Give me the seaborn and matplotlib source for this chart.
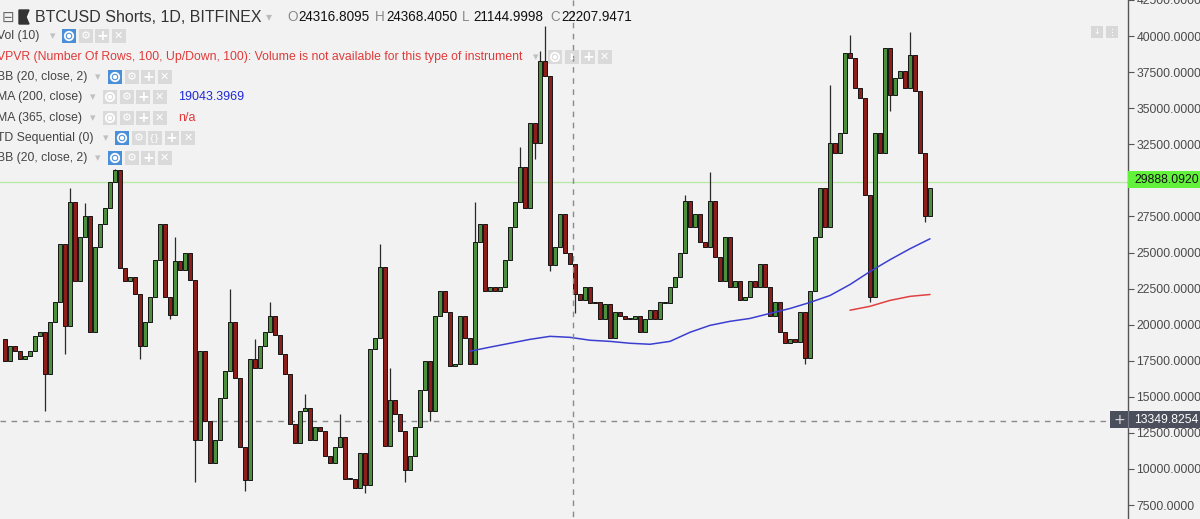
import numpy as np
import matplotlib
matplotlib.use("Agg")
import matplotlib.pyplot as plt
from matplotlib.patches import Rectangle, Polygon, Circle
import seaborn as sns

# ---------------- data (prices in thousands of USD) ----------------
first_open = 19.0
closes = [
    17.5, 18.5, 18.2, 17.6, 17.8, 18.2, 19.2, 19.5, 16.6, 20.2,
    21.6, 25.6, 19.9, 28.5, 23.0, 26.1, 27.5, 19.5, 25.4, 27.0,
    28.1, 29.9, 30.7, 23.9, 23.0, 23.3, 22.1, 18.5, 20.2, 21.9,
    24.5, 27.0, 21.9, 20.7, 24.4, 23.8, 25.0, 23.1, 12.0, 18.2,
    13.3, 10.4, 12.0, 14.9, 16.8, 20.2, 16.3, 11.5, 9.2, 17.6,
    17.0, 18.5, 19.5, 20.6, 19.3, 18.0, 16.6, 13.1, 11.8, 14.0,
    14.2, 12.0, 12.9, 12.6, 10.9, 10.4, 11.5, 12.2, 9.3, 9.3,
    8.7, 11.1, 8.9, 18.3, 19.1, 24.0, 11.6, 14.8, 13.8, 12.6,
    9.9, 10.9, 12.9, 15.5, 17.5, 14.0, 20.6, 22.3, 20.9, 17.1,
    17.3, 20.6, 19.1, 17.3, 25.7, 27.0, 22.3, 22.6, 22.3, 22.6,
    24.5, 26.8, 28.5, 30.9, 28.1, 34.0, 32.6, 38.3, 37.2, 24.1,
    25.4, 27.7, 25.0, 24.2, 22.1, 21.7, 22.6, 21.5, 21.6, 20.4,
    21.4, 19.1, 20.9, 20.6, 20.4, 20.4, 20.6, 19.5, 20.4, 21.0,
    20.4, 21.6, 21.5, 22.6, 23.3, 25.0, 28.6, 26.8, 27.7, 25.7,
    25.4, 28.6, 24.7, 23.0, 26.1, 22.6, 23.0, 21.7, 21.9, 23.0,
    22.6, 24.2, 22.6, 20.6, 21.6, 19.5, 18.7, 19.0, 18.8, 20.9,
    17.7, 22.3, 26.1, 29.5, 26.8, 32.6, 31.9, 33.3, 38.8, 38.5,
    36.4, 35.7, 29.0, 21.9, 33.3, 31.9, 39.2, 35.9, 37.1, 37.6,
    36.4, 38.7, 36.2, 31.9, 27.5, 29.5,
]
wick_high = {13: 29.5, 16: 28.4, 22: 30.8, 34: 26.1, 45: 22.5, 50: 19.0,
             53: 21.6, 60: 15.2, 67: 13.8, 75: 25.6, 77: 17.0, 94: 28.5,
             103: 32.3, 107: 39.0, 108: 40.7, 136: 29.0, 141: 30.6,
             165: 36.6, 169: 40.1, 181: 40.3}
wick_low = {8: 14.0, 12: 18.0, 27: 17.6, 33: 20.4, 38: 9.1, 48: 8.5,
            72: 8.3, 80: 9.1, 85: 13.3, 106: 31.5, 109: 23.7, 114: 20.8,
            160: 17.3, 173: 21.6, 177: 34.8, 184: 27.1}

ma200_start, ma_step = 93, 4
ma200 = [18.16, 18.44, 18.71, 18.98, 19.19, 19.12, 18.92, 18.84, 18.71, 18.64,
         18.84, 19.47, 19.95, 20.23, 20.43, 20.78, 21.12, 21.54, 22.02, 22.78,
         23.68, 24.50, 25.26, 25.95]
ma365_start = 169
ma365 = [21.0, 21.27, 21.68, 21.96, 22.09]

last_price = 29888.0920
cross_price = 13349.8254
y_ticks = [7500, 10000, 12500, 15000, 17500, 20000, 22500, 25000, 27500,
           30000, 32500, 35000, 37500, 40000, 42500]
title = "BTCUSD Shorts, 1D, BITFINEX"
ohlc_letters = ["O", "H", "L", "C"]
ohlc_values = ["24316.8095", "24368.4050", "21144.9998", "22207.9471"]
indicator_labels = ["Vol (10)",
                    "VPVR (Number Of Rows, 100, Up/Down, 100): Volume is not available for this type of instrument",
                    "BB (20, close, 2)", "MA (200, close)", "MA (365, close)",
                    "TD Sequential (0)", "BB (20, close, 2)"]
indicator_values = [None, None, None, "19043.3969", "n/a", None, None]

# ---------------- style ----------------
BG = "#f2f2f2"
GREEN = "#4e8f3e"
RED = "#8c1f1a"
sns.set_style("white")
plt.rcParams["font.family"] = ["Liberation Sans", "DejaVu Sans"]

W, H = 1200, 519
fig = plt.figure(figsize=(W / 100, H / 100), dpi=100)
fig.patch.set_facecolor(BG)
axr = 1128 / W
ax = fig.add_axes([0, 0, axr, 1])
ax.set_facecolor(BG)

# price scale
p_top, p_bot = 42273, 6530
ax.set_ylim(p_bot, p_top)
ax.set_xlim(-1, (1128 - 5) / 5)

n = len(closes)
idx = np.arange(n)
c = np.array(closes) * 1000
o = np.r_[first_open * 1000, c[:-1]]
hi = np.maximum(o, c)
lo = np.minimum(o, c)
for k, v in wick_high.items():
    hi[k] = max(hi[k], v * 1000)
for k, v in wick_low.items():
    lo[k] = min(lo[k], v * 1000)
up = c >= o
body = c - o
body = np.where(np.abs(body) < 90, np.where(up, 90, -90), body)

ax.vlines(idx, lo, hi, color="#2a2a2a", lw=0.9, zorder=2)
ax.bar(idx[up], body[up], bottom=o[up], width=0.7, color=GREEN,
       edgecolor="#151515", linewidth=0.7, zorder=3)
ax.bar(idx[~up], body[~up], bottom=o[~up], width=0.7, color=RED,
       edgecolor="#151515", linewidth=0.7, zorder=3)

ma200_x = ma200_start + ma_step * np.arange(len(ma200))
ma365_x = ma365_start + ma_step * np.arange(len(ma365))
sns.lineplot(x=ma200_x, y=np.array(ma200) * 1000, ax=ax, color="#3b3fd0", lw=1.1, zorder=4)
sns.lineplot(x=ma365_x, y=np.array(ma365) * 1000, ax=ax, color="#e04040", lw=1.1, zorder=4)

ax.axhline(last_price, color="#b9e8a9", lw=1.0, zorder=1)
ax.axhline(cross_price, color="#8a8a8a", lw=1.0, ls=(0, (4, 4)), zorder=1)

ax.yaxis.tick_right()
ax.set_yticks(y_ticks)
# the 30000 label sits under the last-price badge, as in the reference
ax.set_yticklabels(["" if abs(t - last_price) < 600 else f"{t:.4f}" for t in y_ticks])
ax.tick_params(axis="y", length=4, width=0.8, color="#555555", labelsize=8.7,
               labelcolor="#4a4a4a", pad=2)
ax.set_xticks([])
for s in ["top", "left", "bottom"]:
    ax.spines[s].set_visible(False)
ax.spines["right"].set_color("#555555")
ax.spines["right"].set_linewidth(1.0)

# ---------------- overlay (pixel coordinates) ----------------
ov = fig.add_axes([0, 0, 1, 1], facecolor="none")
ov.set_xlim(0, W)
ov.set_ylim(H, 0)
ov.axis("off")
ov.set_zorder(5)

PX = 0.72  # points per pixel

ov.plot([573, 573], [0, H], color="#8a8a8a", lw=1.0, ls=(0, (4, 4)))

# header
ov.text(2, 17, "⊟", fontsize=15 * PX, color="#666666", va="center", family="DejaVu Sans")
ov.add_patch(Polygon([[19, 10], [29, 10], [26, 17], [29, 24], [19, 24]], closed=True,
                     color="#333333"))
ov.text(35, 17, title, fontsize=16 * PX, color="#333333", va="center")
ov.text(266, 17, "▾", fontsize=12 * PX, color="#bbbbbb", va="center", family="DejaVu Sans")
ohlc_x = [287, 375, 462, 550]
for lx, let, val in zip(ohlc_x, ohlc_letters, ohlc_values):
    ov.text(lx, 17, let, fontsize=13.5 * PX, color="#8a8a8a", va="center")
    ov.text(lx + 11, 17, val, fontsize=13.5 * PX, color="#111111", va="center")


def icons(x0, yc, kinds):
    x = x0
    for k in kinds:
        col = "#4a90d9" if k == "eye_b" else "#dadada"
        ov.add_patch(Rectangle((x, yc - 7), 14, 14, color=col, lw=0))
        cx = x + 7
        if k in ("eye_b", "eye_g"):
            ov.add_patch(Circle((cx, yc), 4.2, fill=False, ec="white", lw=1.3))
            ov.add_patch(Circle((cx, yc), 1.5, color="white"))
        elif k == "gear":
            ov.text(cx, yc, "⚙", fontsize=11 * PX, color="white", ha="center", va="center",
                    family="DejaVu Sans")
        elif k == "plus":
            ov.text(cx, yc, "+", fontsize=14 * PX, color="white", ha="center", va="center",
                    family="DejaVu Sans", fontweight="bold")
        elif k == "x":
            ov.text(cx, yc, "✕", fontsize=11 * PX, color="white", ha="center", va="center",
                    family="DejaVu Sans")
        elif k == "br":
            ov.text(cx, yc, "{}", fontsize=9 * PX, color="white", ha="center", va="center",
                    family="DejaVu Sans")
        elif k == "dl":
            ov.text(cx, yc, "⬇", fontsize=9 * PX, color="white", ha="center", va="center",
                    family="DejaVu Sans")
        x += 16.5


row_y = [36, 57, 77, 97, 118, 138, 158]
row_arrow = [50, 533, 95, 90, 90, 103, 95]
row_icon_x = [62, 548, 108, 103, 103, 115, 108]
row_icons = [["eye_b", "gear", "plus", "x"],
             ["eye_g", "dl", "plus", "x"],
             ["eye_b", "gear", "plus", "x"],
             ["eye_g", "gear", "plus", "x"],
             ["eye_g", "gear", "plus", "x"],
             ["eye_b", "gear", "br", "plus", "x"],
             ["eye_b", "gear", "plus", "x"]]
row_val_col = [None, None, None, "#1f2ad6", "#e03a3a", None, None]
for i, lab in enumerate(indicator_labels):
    col = "#e03a3a" if i == 1 else "#444444"
    ov.text(-3, row_y[i], lab, fontsize=12.3 * PX, color=col, va="center")
    ov.text(row_arrow[i], row_y[i], "▾", fontsize=11 * PX, color="#c0c0c0", va="center",
            family="DejaVu Sans")
    icons(row_icon_x[i], row_y[i], row_icons[i])
    if indicator_values[i]:
        ov.text(178, row_y[i], indicator_values[i], fontsize=12.5 * PX,
                color=row_val_col[i], va="center")

# top-right small buttons
for bx in (1091, 1106):
    ov.add_patch(Rectangle((bx, 26), 12, 12, color="#d8d8d8", lw=0))
ov.text(1097, 32, "↓", fontsize=8 * PX, color="white", ha="center", va="center",
        family="DejaVu Sans")
ov.text(1112, 32, "⋮", fontsize=9 * PX, color="white", ha="center", va="center",
        family="DejaVu Sans")


def price_y(p):
    return (p_top - p) / (p_top - p_bot) * H


yg = price_y(last_price)
ov.add_patch(Rectangle((1128, yg - 8.5), 72, 17, color="#62f23c", lw=0))
ov.text(1134, yg, f"{last_price:.4f}", fontsize=8.7, color="#111111", va="center")

yc = price_y(cross_price)
ov.add_patch(Rectangle((1110, yc - 8.5), 90, 17, color="#4b4f5b", lw=0))
ov.plot([1128, 1128], [yc - 8.5, yc + 8.5], color="#777b86", lw=0.8)
ov.text(1119, yc, "+", fontsize=14 * PX, color="#dddddd", ha="center", va="center",
        family="DejaVu Sans")
ov.text(1134, yc, f"{cross_price:.4f}", fontsize=8.7, color="white", va="center")

fig.savefig("out.png", dpi=100, facecolor=BG)
